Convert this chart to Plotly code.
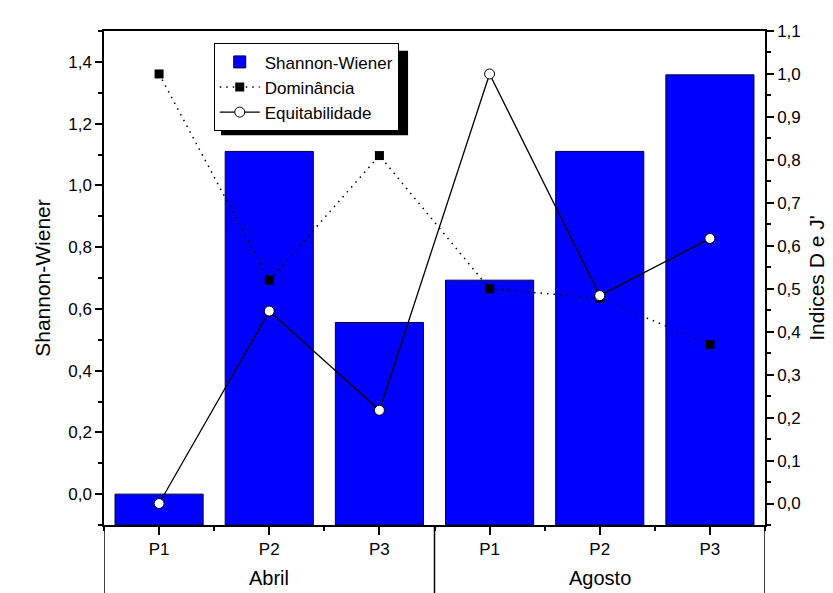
import plotly.graph_objects as go

# ---- data ----
months = ["Abril", "Agosto"]
points = ["P1", "P2", "P3"]
shannon = [0.0, 1.11, 0.556, 0.693, 1.11, 1.358]
dominancia = [1.0, 0.52, 0.81, 0.50, 0.478, 0.37]
equitabilidade = [0.0, 0.448, 0.217, 1.0, 0.484, 0.617]

cat_labels = [p for m in months for p in points]
xpos = list(range(len(cat_labels)))
y1_range = [-0.1, 1.5]
y2_range = [-0.05, 1.1]
bar_base = y1_range[0]

FONT = "Liberation Sans, Arial, sans-serif"

fig = go.Figure()
fig.add_trace(go.Bar(
    x=xpos, y=[v - bar_base for v in shannon], base=bar_base,
    name="Shannon-Wiener", width=0.8,
    marker=dict(color="#0000FF", line=dict(color="#000033", width=1)),
    yaxis="y"))
fig.add_trace(go.Scatter(
    x=xpos, y=dominancia, name="Dominância", mode="lines+markers",
    line=dict(color="black", width=1.5, dash="1.5px,5px"),
    marker=dict(symbol="square", size=9, color="black"),
    yaxis="y2"))
fig.add_trace(go.Scatter(
    x=xpos, y=equitabilidade, name="Equitabilidade", mode="lines+markers",
    line=dict(color="black", width=1.3),
    marker=dict(symbol="circle", size=10, color="white",
                line=dict(color="black", width=1)),
    yaxis="y2"))

# group separators and labels below the axis
shapes = []
n = len(points)
for k in range(len(months) + 1):
    xb = k * n - 0.5
    shapes.append(dict(type="line", xref="x", yref="paper",
                       x0=xb, x1=xb, y0=0, y1=-0.16,
                       line=dict(color="black", width=1.5)))
# legend shadow (drawn behind the white legend box)
shapes.append(dict(type="rect", xref="paper", yref="paper",
                   x0=0.177, x1=0.46, y0=0.789, y1=0.96,
                   fillcolor="black", line=dict(width=0), layer="above"))

annotations = []
for k, m in enumerate(months):
    annotations.append(dict(x=k * n + (n - 1) / 2, y=-0.108, xref="x", yref="paper",
                            text=m, showarrow=False, yanchor="middle",
                            font=dict(size=20, color="black", family=FONT)))

fig.update_layout(
    width=833, height=593,
    margin=dict(l=96, r=76, t=23, b=76, autoexpand=False),
    paper_bgcolor="white", plot_bgcolor="white",
    separators=",.",
    font=dict(family=FONT, color="black", size=17),
    showlegend=True,
    legend=dict(x=0.166, y=0.975, xanchor="left", yanchor="top",
                bgcolor="white", bordercolor="black", borderwidth=1,
                font=dict(size=17, family=FONT), tracegroupgap=0,
                itemwidth=40),
    xaxis=dict(range=[-0.5, len(cat_labels) - 0.5], automargin=False,
               tickmode="array", tickvals=xpos, ticktext=cat_labels,
               ticks="outside", ticklen=8, tickwidth=1.5, tickcolor="black",
               minor=dict(tick0=-0.5, dtick=1, ticks="outside", ticklen=4,
                          tickwidth=1.5, tickcolor="black"),
               showline=True, linecolor="black", linewidth=1.5, mirror=True,
               showgrid=False, zeroline=False,
               tickfont=dict(size=17)),
    yaxis=dict(range=y1_range, tick0=0, dtick=0.2, tickformat=".1f", automargin=False,
               ticks="outside", ticklen=7, tickwidth=1.5, tickcolor="black",
               minor=dict(dtick=0.1, ticks="outside", ticklen=4,
                          tickwidth=1.5, tickcolor="black"),
               showline=True, linecolor="black", linewidth=1.5,
               showgrid=False, zeroline=False,
               title=dict(text="Shannon-Wiener", font=dict(size=21), standoff=12),
               tickfont=dict(size=17)),
    yaxis2=dict(range=y2_range, tick0=0, dtick=0.1, tickformat=".1f", automargin=False,
                overlaying="y", side="right",
                ticks="outside", ticklen=7, tickwidth=1.5, tickcolor="black",
                minor=dict(dtick=0.05, ticks="outside", ticklen=4,
                           tickwidth=1.5, tickcolor="black"),
                showline=True, linecolor="black", linewidth=1.5,
                showgrid=False, zeroline=False,
                title=dict(text="Indices D e J'", font=dict(size=21), standoff=10),
                tickfont=dict(size=17)),
    shapes=shapes,
    annotations=annotations,
)

fig.write_html("out.html")
